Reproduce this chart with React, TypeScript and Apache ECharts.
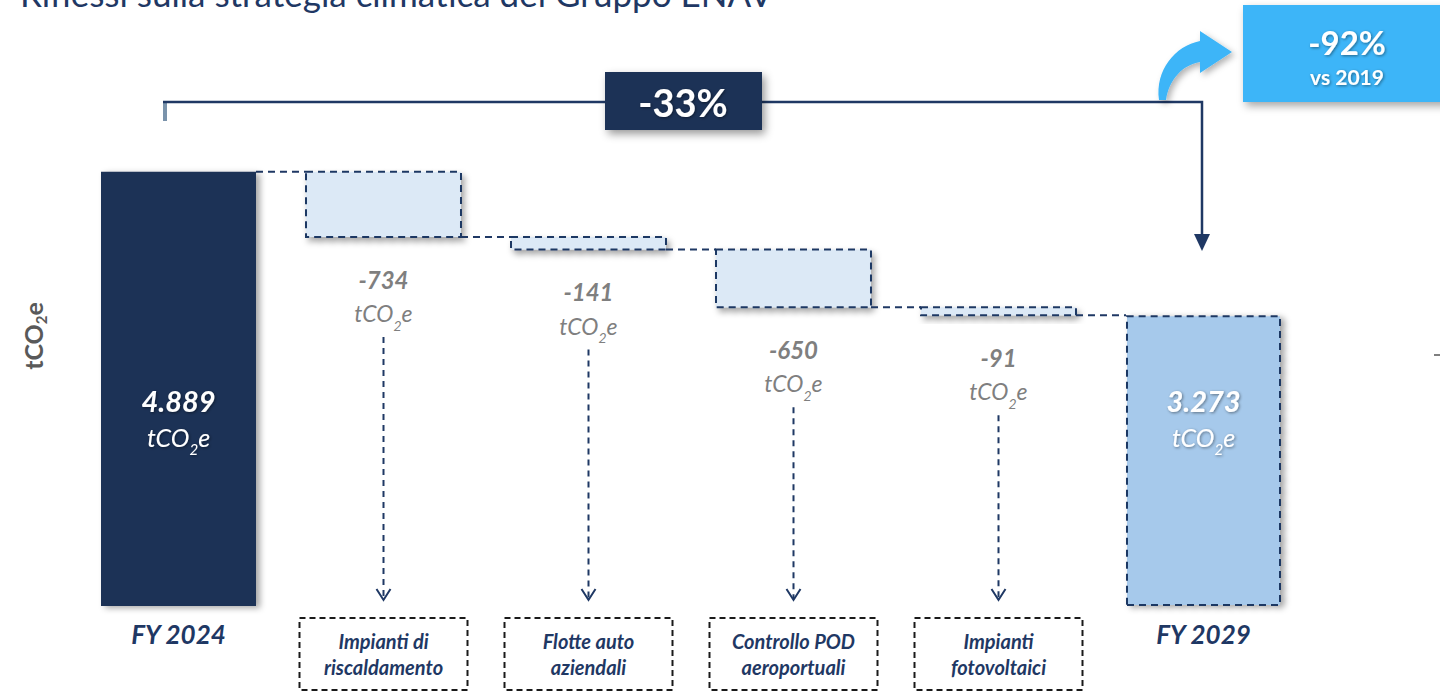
import React, { useEffect, useRef } from 'react';
import * as echarts from 'echarts';

const categories = [
  'FY 2024',
  'Impianti di\nriscaldamento',
  'Flotte auto\naziendali',
  'Controllo POD\naeroportuali',
  'Impianti\nfotovoltaici',
  'FY 2029',
];
const startValue = 4889;
const stepValues = [-734, -141, -650, -91];
const endValue = 3273;
const yRange = [0, 5000];
const titleText = 'Riflessi sulla strategia climatica del Gruppo ENAV';
const reductionText = '-33%';
const vs2019Value = '-92%';
const vs2019Text = 'vs 2019';
const unitName = 'tCO2e';

const F = 'Lato, "Open Sans", sans-serif';
const NAVY = '#1f3864';
const BAR_NAVY = '#1f3256';

const fmt = (v: number) => String(v).replace(/\B(?=(\d{3})+(?!\d))/g, '.');

echarts.graphic.registerShape(
  'curvedArrow',
  echarts.graphic.extendPath(
    'M1159 100 C1155 70 1175 46 1200 41 L1200 31 L1232 52 L1200 73 L1200 62 C1182 65 1169 80 1166 100 Z',
    {}
  )
);

export default function App() {
  const ref = useRef<HTMLDivElement>(null);
  useEffect(() => {
    if (!ref.current) return;
    const chart = echarts.init(ref.current, null, { renderer: 'svg' });

    let cum = startValue;
    const stepData = stepValues.map((d, k) => {
      const top = cum;
      cum += d;
      return [k + 1, top, cum, d];
    });
    const lastIdx = stepValues.length;

    const totals: any[] = categories.map(() => '-');
    totals[0] = startValue;
    totals[categories.length - 1] = {
      value: endValue,
      itemStyle: {
        color: '#a6c9eb',
        borderColor: NAVY,
        borderWidth: 2,
        borderType: [7, 5],
      },
    };

    const shadowTxt = {
      textShadowColor: 'rgba(0,0,0,0.45)',
      textShadowBlur: 3,
      textShadowOffsetX: 1,
      textShadowOffsetY: 1,
    };

    const greyRich = {
      v: { fontFamily: F, fontSize: 24, fontWeight: 'bold', fontStyle: 'italic', fill: '#7f7f7f', lineHeight: 30 },
      u: { fontFamily: F, fontSize: 23, fontStyle: 'italic', fill: '#7f7f7f', lineHeight: 38 },
      s: { fontFamily: F, fontSize: 14, fontStyle: 'italic', fill: '#7f7f7f', lineHeight: 28, verticalAlign: 'bottom' },
    };

    const renderStep = (params: any, api: any) => {
      const i = api.value(0);
      const top = api.value(1);
      const bot = api.value(2);
      const d = api.value(3);
      const pTop = api.coord([i, top]);
      const pBot = api.coord([i, bot]);
      const base = api.coord([i, 0])[1];
      const band = api.size([1, 0])[0];
      const w = band * 0.756;
      const cx = pTop[0];
      const x = cx - w / 2;
      const dashStroke = { stroke: NAVY, lineWidth: 2, lineDash: [7, 5] };
      const labelTop = pBot[1] + 27;
      const children: any[] = [
        {
          type: 'line',
          shape: { x1: cx - band + w / 2, y1: pTop[1], x2: x, y2: pTop[1] },
          style: dashStroke,
        },
        {
          type: 'rect',
          shape: { x, y: pTop[1], width: w, height: pBot[1] - pTop[1] },
          style: {
            fill: '#dce9f6',
            ...dashStroke,
            shadowBlur: 6,
            shadowOffsetX: 3,
            shadowOffsetY: 4,
            shadowColor: 'rgba(0,0,0,0.35)',
          },
        },
        {
          type: 'text',
          style: {
            x: cx,
            y: labelTop,
            text: `{v|${d}}\n{u|tCO}{s|2}{u|e}`,
            align: 'center',
            verticalAlign: 'top',
            rich: greyRich,
          },
        },
        {
          type: 'line',
          shape: { x1: cx, y1: labelTop + 73, x2: cx, y2: base - 7 },
          style: { stroke: NAVY, lineWidth: 2, lineDash: [6, 5] },
        },
        {
          type: 'polyline',
          shape: { points: [[cx - 7, base - 17], [cx, base - 6], [cx + 7, base - 17]] },
          style: { stroke: NAVY, lineWidth: 2, fill: null },
        },
        {
          type: 'rect',
          shape: { x: cx - 84, y: base + 12, width: 168, height: 72 },
          style: { fill: null, stroke: '#1a1a1a', lineWidth: 2, lineDash: [6, 4] },
        },
      ];
      if (i === lastIdx) {
        children.push({
          type: 'line',
          shape: { x1: x + w, y1: pBot[1], x2: cx + band - w / 2, y2: pBot[1] },
          style: dashStroke,
        });
      }
      return { type: 'group', children };
    };

    const option: any = {
      animation: false,
      grid: { left: 76, right: 134, top: 162, bottom: 88 },
      xAxis: {
        type: 'category',
        data: categories,
        axisLine: { show: false },
        axisTick: { show: false },
        axisLabel: {
          interval: 0,
          margin: 22,
          formatter: (val: string) => {
            if (val.startsWith('FY')) return `{fy|${val}}`;
            return val
              .split('\n')
              .map((l) => `{c|${l}}`)
              .join('\n');
          },
          rich: {
            fy: { fontFamily: F, fontSize: 26, fontWeight: 'bold', fontStyle: 'italic', color: NAVY, lineHeight: 12 },
            c: { fontFamily: F, fontSize: 20, fontWeight: 'bold', fontStyle: 'italic', color: NAVY, lineHeight: 26 },
          },
        },
      },
      yAxis: {
        type: 'value',
        min: yRange[0],
        max: yRange[1],
        show: false,
      },
      series: [
        {
          type: 'bar',
          data: totals,
          barWidth: 155,
          itemStyle: {
            color: BAR_NAVY,
            shadowBlur: 6,
            shadowOffsetX: 4,
            shadowOffsetY: 2,
            shadowColor: 'rgba(0,0,0,0.35)',
          },
          label: {
            show: true,
            position: 'insideBottom',
            distance: 150,
            formatter: (p: any) => `{v|${fmt(p.value)}}\n{u|tCO}{s|2}{u|e}`,
            rich: {
              v: { fontFamily: F, fontSize: 29, fontWeight: 'bold', fontStyle: 'italic', color: '#fff', lineHeight: 36, ...shadowTxt },
              u: { fontFamily: F, fontSize: 25, fontStyle: 'italic', color: '#fff', lineHeight: 38, ...shadowTxt },
              s: { fontFamily: F, fontSize: 15, fontStyle: 'italic', color: '#fff', lineHeight: 28, verticalAlign: 'bottom', ...shadowTxt },
            },
          },
        },
        {
          type: 'custom',
          data: stepData,
          encode: { x: 0, y: [1, 2] },
          renderItem: renderStep,
          clip: false,
        },
      ],
      graphic: [
        {
          type: 'text',
          x: 20,
          y: -7,
          style: { text: titleText, fontFamily: F, fontSize: 35, fill: NAVY, verticalAlign: 'middle' },
        },
        {
          type: 'text',
          x: 33,
          y: 336,
          rotation: Math.PI / 2,
          style: {
            text: '{b|tCO}{s|2}{b|e}',
            align: 'center',
            verticalAlign: 'middle',
            rich: {
              b: { fontFamily: F, fontSize: 25, fontWeight: 'bold', fill: '#595959', lineHeight: 30 },
              s: { fontFamily: F, fontSize: 15, fontWeight: 'bold', fill: '#595959', lineHeight: 22, verticalAlign: 'bottom' },
            },
          },
        },
        {
          type: 'line',
          shape: { x1: 165, y1: 102, x2: 165, y2: 121 },
          style: { stroke: '#7a93ab', lineWidth: 4 },
        },
        {
          type: 'polyline',
          shape: { points: [[163, 102], [1202, 102], [1202, 236]] },
          style: { stroke: NAVY, lineWidth: 2.5, fill: null },
        },
        {
          type: 'polygon',
          shape: { points: [[1194, 234], [1210, 234], [1202, 251]] },
          style: { fill: NAVY },
        },
        {
          type: 'rect',
          shape: { x: 605, y: 72, width: 157, height: 58 },
          style: {
            fill: BAR_NAVY,
            shadowBlur: 8,
            shadowOffsetX: 3,
            shadowOffsetY: 4,
            shadowColor: 'rgba(0,0,0,0.4)',
          },
        },
        {
          type: 'text',
          x: 683,
          y: 102,
          style: {
            text: reductionText,
            align: 'center',
            verticalAlign: 'middle',
            fontFamily: F,
            fontSize: 38,
            fontWeight: 'bold',
            fill: '#fff',
            ...shadowTxt,
          },
        },
        {
          type: 'curvedArrow',
          x: 0,
          y: 0,
          style: {
            fill: '#3db5f8',
            shadowBlur: 6,
            shadowOffsetX: 3,
            shadowOffsetY: 3,
            shadowColor: 'rgba(0,0,0,0.3)',
          },
        },
        {
          type: 'rect',
          shape: { x: 1243, y: 5, width: 220, height: 97 },
          style: {
            fill: '#3db5f8',
            shadowBlur: 8,
            shadowOffsetX: 3,
            shadowOffsetY: 4,
            shadowColor: 'rgba(0,0,0,0.35)',
          },
        },
        {
          type: 'text',
          x: 1347,
          y: 42,
          style: {
            text: vs2019Value,
            align: 'center',
            verticalAlign: 'middle',
            fontFamily: F,
            fontSize: 33,
            fontWeight: 'bold',
            fill: '#fff',
            ...shadowTxt,
          },
        },
        {
          type: 'text',
          x: 1347,
          y: 76,
          style: {
            text: vs2019Text,
            align: 'center',
            verticalAlign: 'middle',
            fontFamily: F,
            fontSize: 21,
            fontWeight: 'bold',
            fill: '#fff',
            ...shadowTxt,
          },
        },
        {
          type: 'line',
          shape: { x1: 1434, y1: 355, x2: 1440, y2: 355 },
          style: { stroke: '#555', lineWidth: 1.5 },
        },
      ],
    };
    chart.setOption(option);
    return () => chart.dispose();
  }, []);

  return (
    <div
      ref={ref}
      style={{ position: 'fixed', left: 0, top: 0, width: 1440, height: 694, background: '#fff' }}
      aria-label={unitName}
    />
  );
}
